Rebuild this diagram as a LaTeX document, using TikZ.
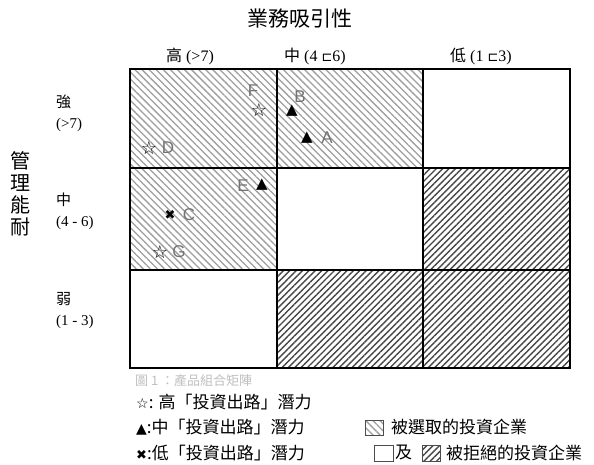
\documentclass[tikz,border=0pt]{standalone}
\usepackage{fontspec}
\setmainfont{Liberation Serif}
\newfontfamily\cjk{Noto Sans CJK TC}
\newfontfamily\sym{DejaVu Sans}
\newfontfamily\lab{Liberation Sans}
\usetikzlibrary{patterns.meta}
\begin{document}
\begin{tikzpicture}[x=1pt,y=-1pt,
  gridline/.style={draw=black, line width=1.1pt},
  selhatch/.style={pattern={Lines[angle=-45,distance=5pt,line width=1.3pt]}, pattern color=black!38},
  rejhatch/.style={pattern={Lines[angle=45,distance=4.5pt,line width=1.4pt]}, pattern color=black!72},
  ptlabel/.style={font=\lab\fontsize{17}{17}\selectfont, text=black!55, inner sep=0pt},
  ptsym/.style={font=\sym\fontsize{15}{15}\selectfont, inner sep=0pt},
  ptstar/.style={font=\sym\fontsize{18}{18}\selectfont, inner sep=0pt},
  head/.style={font=\fontsize{16}{16}\selectfont, inner sep=0pt},
  rowlab/.style={font=\fontsize{15}{21}\selectfont, inner sep=0pt, anchor=west, align=left},
  legtext/.style={font=\cjk\fontsize{17}{17}\selectfont, inner sep=0pt, anchor=west},
  legbox/.style={draw=black!70, line width=0.6pt}
]
\useasboundingbox (0,0) rectangle (594,465);
% cells
\path[selhatch] (130,69) rectangle (423,168);
\path[selhatch] (130,168) rectangle (277,270);
\path[rejhatch] (423,168) rectangle (570,270);
\path[rejhatch] (277,270) rectangle (570,368);
% grid
\draw[gridline] (130,69) rectangle (570,368);
\draw[gridline] (277,69) -- (277,368);
\draw[gridline] (423,69) -- (423,368);
\draw[gridline] (130,168) -- (570,168);
\draw[gridline] (130,270) -- (570,270);
% titles
\node[font=\cjk\fontsize{21}{21}\selectfont, inner sep=0pt] (title) at (300,19) {業務吸引性};
\node[head] (c1) at (190,56) {{\cjk 高} (>7)};
\node[head] (c2) at (315,56) {{\cjk 中} (4 {\sym\fontsize{13}{13}\selectfont ⊏}6)};
\node[head] (c3) at (481,56) {{\cjk 低} (1 {\sym\fontsize{13}{13}\selectfont ⊏}3)};
\node[rowlab] (r1) at (56,113) {{\cjk 強}\\(>7)};
\node[rowlab] (r2) at (56,211) {{\cjk 中}\\(4 - 6)};
\node[rowlab] (r3) at (56,311) {{\cjk 弱}\\(1 - 3)};
\node[font=\cjk\fontsize{20}{22}\selectfont, align=center, inner sep=0pt] (side) at (20,194) {管\\理\\能\\耐};
% points
\node[ptstar] (Fs) at (259,110) {☆};
\node[ptlabel] (F) at (253,91) {F};
\node[ptsym] (Bs) at (292,111) {▲};
\node[ptlabel] (B) at (300,97) {B};
\node[ptsym] (As) at (307,138) {▲};
\node[ptlabel] (A) at (327,138) {A};
\node[ptstar] (Ds) at (149,148) {☆};
\node[ptlabel] (D) at (168,148) {D};
\node[ptlabel] (E) at (243,186) {E};
\node[ptsym] (Es) at (262,185) {▲};
\node[ptsym, font=\sym\fontsize{13}{13}\selectfont] (Cs) at (170,215) {✖};
\node[ptlabel] (C) at (189,215) {C};
\node[ptstar] (Gs) at (160,252) {☆};
\node[ptlabel] (G) at (179,252) {G};
% caption (faint)
\node[font=\cjk\fontsize{13}{13}\selectfont, text=black!25, inner sep=0pt, anchor=west] (cap) at (135,381) {圖 1 ：產品組合矩陣};
% legend
\node[legtext] (l1) at (136,402) {{\sym\fontsize{14}{14}\selectfont ☆}: 高「投資出路」潛力};
\node[legtext] (l2) at (136,427) {{\sym\fontsize{14}{14}\selectfont ▲}:中「投資出路」潛力};
\node[legtext] (l3) at (136,453) {{\sym\fontsize{13}{13}\selectfont ✖}:低「投資出路」潛力};
\path[selhatch] (365,420) rectangle (383,435);
\draw[legbox] (365,420) rectangle (383,435);
\node[legtext] (r2t) at (391,427) {被選取的投資企業};
\draw[legbox] (374,445) rectangle (393,461);
\node[legtext] (ji) at (395,453) {及};
\path[rejhatch] (422,445) rectangle (440,461);
\draw[legbox] (422,445) rectangle (440,461);
\node[legtext] (r3t) at (446,453) {被拒絕的投資企業};
\end{tikzpicture}
\end{document}
